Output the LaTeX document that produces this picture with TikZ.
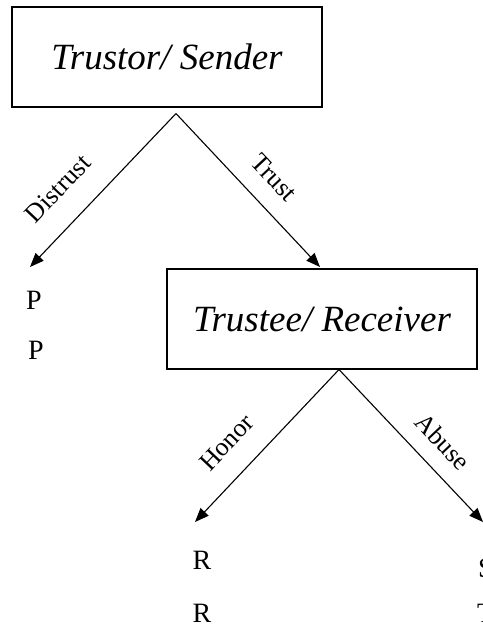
\documentclass[tikz,border=0pt]{standalone}
\usepackage{fontspec}
\setmainfont{Liberation Serif}
\usetikzlibrary{positioning,arrows.meta,calc}
\tikzset{
  player/.style={draw,line width=1.1pt,minimum width=310pt,minimum height=100pt,
    font=\fontsize{37}{42}\selectfont\itshape},
  move/.style={draw,line width=1.1pt,-{Triangle[length=14pt,width=11pt]}},
  choice/.style={sloped,font=\fontsize{26}{30}\selectfont},
  payoff/.style={inner sep=0pt,font=\fontsize{28}{32}\selectfont},
}

\begin{document}
\begin{tikzpicture}[x=1pt,y=-1pt]
\useasboundingbox (0,0) rectangle (482,628);

\node[player] (sender) at (167,57) {Trustor/\ Sender};
\node[player] (receiver) at (322,319) {Trustee/\ Receiver};

\coordinate (sendfork) at ($(sender.south)+(9,6)$);
\coordinate (recvfork) at ($(receiver.south)+(17,0)$);
\coordinate (distrustend) at (30,267);
\coordinate (trustend) at (320,267);
\coordinate (honorend) at (195,522);
\coordinate (abuseend) at (483,522);

\draw[move] (sendfork) -- node[choice,pos=0.64,above=21pt] {Distrust} (distrustend);
\draw[move] (sendfork) -- node[choice,pos=0.54,above=15pt] {Trust} (trustend);
\draw[move] (recvfork) -- node[choice,pos=0.62,above=19pt] {Honor} (honorend);
\draw[move] (recvfork) -- node[choice,pos=0.59,above=13pt] {Abuse} (abuseend);

\node[payoff] (p1) at (34,300) {P};
\node[payoff] (p2) at (36,350) {P};
\node[payoff] (r1) at (202,560) {R};
\node[payoff] (r2) at (202,613) {R};
\node[payoff,anchor=west] (s1) at (478,568) {S};
\node[payoff,anchor=west] (t1) at (477,613) {T};
\end{tikzpicture}
\end{document}
